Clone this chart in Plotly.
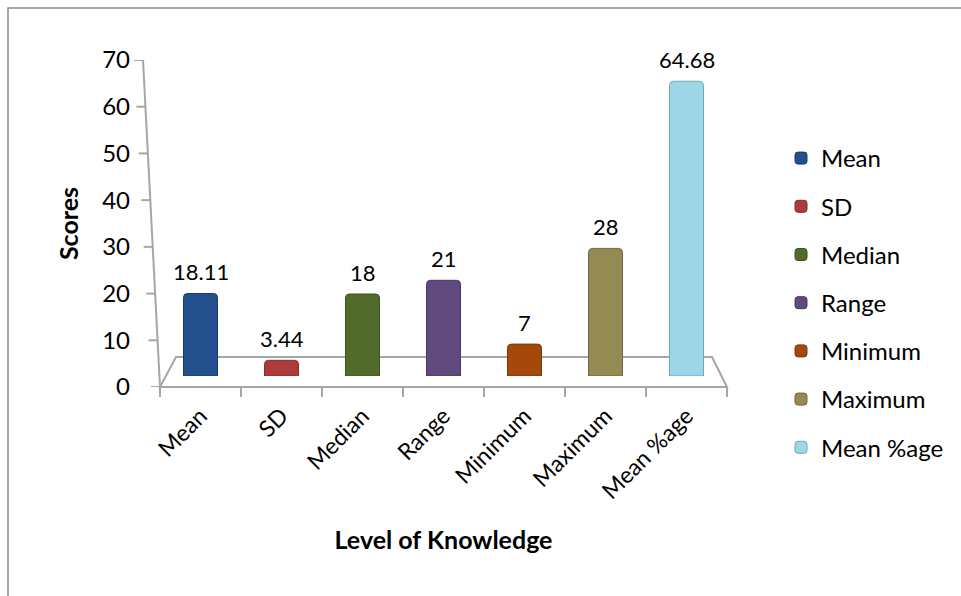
import plotly.graph_objects as go

# ---- data ----
categories = ["Mean", "SD", "Median", "Range", "Minimum", "Maximum", "Mean %age"]
values = [18.11, 3.44, 18, 21, 7, 28, 64.68]
value_labels = ["18.11", "3.44", "18", "21", "7", "28", "64.68"]
colors = ["#234f8c", "#ad3b3b", "#526b2a", "#604a7d", "#a5480c", "#948a54", "#9dd6e6"]
line_colors = ["#1a3a68", "#822c2c", "#3d521f", "#48385e", "#7c3609", "#6f673f", "#6fa9b9"]
y_ticks = [0, 10, 20, 30, 40, 50, 60, 70]

# ---- layout geometry (pixels) ----
W, H = 961, 596
L, R, T, B = 100, 234, 8, 20
pw = W - L - R
ph = H - T - B


def px(x):
    return (x - L) / pw


def py(y):
    return (H - B - y) / ph


FONT = "Lato, 'Open Sans', sans-serif"

fig = go.Figure()
for cat, val, col, lc in zip(categories, values, colors, line_colors):
    fig.add_trace(go.Bar(
        x=[cat], y=[val], name=cat, legendgroup=cat,
        marker=dict(color=col, line=dict(color=lc, width=1), cornerradius=4),
        width=0.42, xaxis="x", yaxis="y2", hoverinfo="x+y",
    ))

annotations = []
for cat, val, lab in zip(categories, values, value_labels):
    annotations.append(dict(
        x=cat, y=val, xref="x", yref="y2", text=lab, showarrow=False,
        yanchor="bottom", yshift=6, font=dict(size=22, color="black", family=FONT),
    ))

shapes = []
# outer chart frame
shapes.append(dict(type="rect", xref="paper", yref="paper",
                   x0=px(8), y0=py(8), x1=px(990), y1=py(640),
                   line=dict(color="#8a8a8a", width=1.5), fillcolor="rgba(0,0,0,0)", layer="below"))
# 3D floor
floor = (f"M {px(160)},{py(387)} L {px(727)},{py(387)} L {px(712)},{py(357)} "
         f"L {px(176)},{py(357)} Z")
shapes.append(dict(type="path", xref="paper", yref="paper", path=floor,
                   line=dict(color="#a6a6a6", width=2), fillcolor="rgba(255,255,255,0)", layer="below"))
# slanted value axis
shapes.append(dict(type="line", xref="paper", yref="paper",
                   x0=px(143), y0=py(60), x1=px(160), y1=py(387),
                   line=dict(color="#a6a6a6", width=2), layer="below"))
# value-axis tick marks following the slanted axis
for v in y_ticks:
    ypix = 387 - v * (327 / 70)
    xline = 160 - (387 - ypix) / 327 * 17
    shapes.append(dict(type="line", xref="paper", yref="y", x0=px(xline - 9), x1=px(xline),
                       y0=v, y1=v, line=dict(color="#a6a6a6", width=2), layer="below"))

fig.update_layout(
    width=W, height=H,
    margin=dict(l=L, r=R, t=T, b=B, autoexpand=False),
    paper_bgcolor="white", plot_bgcolor="rgba(0,0,0,0)",
    barmode="overlay",
    font=dict(family=FONT, color="black", size=20),
    showlegend=True,
    legend=dict(x=px(781), xanchor="left", y=py(136), yanchor="top",
                font=dict(size=24, family=FONT), traceorder="grouped", tracegroupgap=14,
                bgcolor="rgba(0,0,0,0)", maxheight=1),
    xaxis=dict(domain=[px(160), px(727)], anchor="y", type="category",
               categoryorder="array", categoryarray=categories,
               showline=False, ticks="outside", tickson="boundaries", ticklen=9,
               tickcolor="#a6a6a6", tickwidth=2, tickangle=-45, ticklabelstandoff=10,
               tickfont=dict(size=23, family=FONT),
               showgrid=False, zeroline=False,
               title=dict(text="<b>Level of Knowledge</b>", font=dict(size=25, family=FONT),
                          standoff=28)),
    yaxis=dict(domain=[py(387), py(60)], range=[0, 70], anchor="free", position=px(130),
               tickvals=y_ticks, ticks="", showline=False, showgrid=False, zeroline=False,
               tickfont=dict(size=24, family=FONT),
               title=dict(text="<b>Scores</b>", font=dict(size=25, family=FONT))),
    yaxis2=dict(domain=[py(376), py(57)], range=[0, 70], anchor="x", visible=False,
                showgrid=False, zeroline=False),
    annotations=annotations,
    shapes=shapes,
)

fig.write_html("out.html")
